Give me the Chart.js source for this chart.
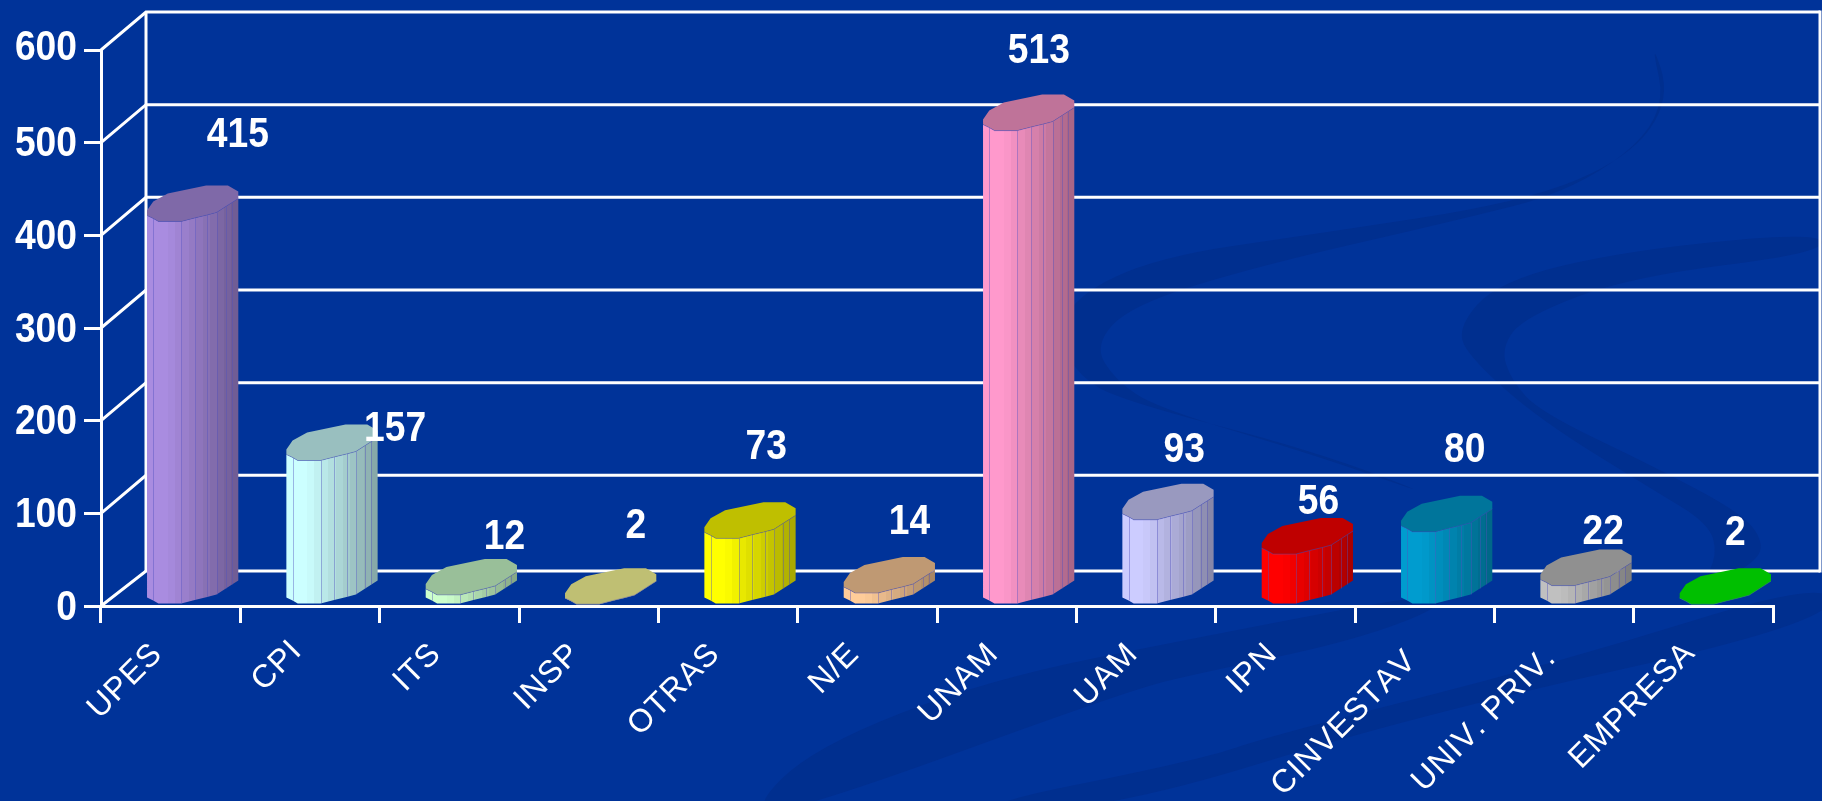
<!DOCTYPE html>
<html>
<head>
<meta charset="utf-8">
<style>
  html, body { margin: 0; padding: 0; background: #003399; overflow: hidden; }
  canvas { display: block; }
</style>
<script src="https://cdn.jsdelivr.net/npm/chart.js@4"></script>
</head>
<body>
<canvas id="grafico" width="1822" height="801"></canvas>
<script>
const categorias = ["UPES", "CPI", "ITS", "INSP", "OTRAS", "N/E", "UNAM", "UAM", "IPN", "CINVESTAV", "UNIV. PRIV.", "EMPRESA"];
const valores = [415, 157, 12, 2, 73, 14, 513, 93, 56, 80, 22, 2];
const colores = ["#a98ce0", "#ccffff", "#ccffcc", "#ffff99", "#ffff00", "#ffcc99", "#ff99cc", "#ccccff", "#ff0000", "#009ccf", "#c0c0c0", "#00ff00"];
const ticksY = [0, 100, 200, 300, 400, 500, 600];

// desplazamiento de cada etiqueta de valor respecto a la esquina superior derecha de su barra
const etiquetaDx = [0, 18, -12, -20, -29, -25, -35, -29, -34, -27, -28, -35];
const etiquetaDy = [-86, -31, -57, -78, -91, -71, -79, -69, -52, -81, -53, -71];
// bajada de las etiquetas inclinadas respecto a la linea comun
const categoriaDy = [0, -3, 0, 0, 0, 0, 0, 0, 0, 7, 4, -1];

const FONDO = "#003399";
const OSCURO = "#002f8f";
const BLANCO = "#ffffff";
const PARED_X = 45;
const PARED_Y = 38;
const FUENTE_NUM = "bold 42px 'Liberation Sans', Arial, sans-serif";
const FUENTE_CAT = "32px 'Liberation Sans', Arial, sans-serif";

// contorno de la cara superior, en pixeles para una barra de 88 x 36
const cadenaFrente = [[0, -6], [6, -3], [11, 0], [33, 0], [46, -3.5], [58, -6.5], [67, -9], [76, -15], [82, -19], [88, -23]];
const cadenaFondo = [[88, -30], [78, -36], [57, -36], [20, -28], [6, -20], [0, -11]];

// cintas decorativas del fondo de la plantilla
const cintas = [
  [[1650, 36], [1671, 99], [1629, 158], [1524, 202], [1315, 234], [1157, 257], [1073, 297], [1060, 340], [1079, 376], [1120, 400], [1315, 451], [1446, 501], [1315, 455], [1157, 408], [1115, 380], [1094, 345], [1131, 305], [1262, 265], [1450, 222], [1577, 190], [1668, 119]],
  [[1822, 232], [1629, 250], [1498, 281], [1456, 329], [1472, 360], [1540, 420], [1655, 491], [1708, 523], [1718, 554], [1700, 590], [1750, 566], [1765, 546], [1745, 515], [1655, 467], [1540, 412], [1511, 380], [1501, 348], [1524, 317], [1629, 277], [1822, 253]],
  [[1830, 578], [1557, 663], [1273, 735], [1200, 760], [950, 810], [1110, 810], [1416, 715], [1830, 623]],
  [[1446, 590], [1200, 637], [986, 680], [814, 747], [750, 810], [800, 810], [1130, 690], [1200, 673], [1344, 643], [1437, 610]]
];

function tono(hex, f) {
  const n = parseInt(hex.slice(1), 16);
  const r = Math.round(((n >> 16) & 255) * f);
  const g = Math.round(((n >> 8) & 255) * f);
  const b = Math.round((n & 255) * f);
  return "rgb(" + r + "," + g + "," + b + ")";
}

function trazarCinta(ctx, puntos) {
  const n = puntos.length;
  const medio = (a, b) => [(a[0] + b[0]) / 2, (a[1] + b[1]) / 2];
  const inicio = medio(puntos[n - 1], puntos[0]);
  ctx.beginPath();
  ctx.moveTo(inicio[0], inicio[1]);
  for (let i = 0; i < n; i++) {
    const m = medio(puntos[i], puntos[(i + 1) % n]);
    ctx.quadraticCurveTo(puntos[i][0], puntos[i][1], m[0], m[1]);
  }
  ctx.closePath();
  ctx.fill();
}

// la fuente original es mas angosta que Liberation Sans Bold
function textoAngosto(ctx, texto, x, y) {
  ctx.save();
  ctx.translate(x, y);
  ctx.scale(0.886, 1);
  ctx.fillText(texto, 0, 0);
  ctx.restore();
}

const fondoPlugin = {
  id: "fondo",
  beforeDraw(chart) {
    const ctx = chart.ctx;
    ctx.save();
    ctx.fillStyle = FONDO;
    ctx.fillRect(0, 0, chart.width, chart.height);
    ctx.fillStyle = OSCURO;
    cintas.forEach((c) => trazarCinta(ctx, c));
    ctx.restore();
  },
};

const paredPlugin = {
  id: "pared",
  beforeDatasetsDraw(chart) {
    const ctx = chart.ctx;
    const area = chart.chartArea;
    const y = chart.scales.y;
    const izq = area.left + PARED_X;
    const der = area.right + 47;
    ctx.save();
    ctx.strokeStyle = BLANCO;
    ctx.lineWidth = 3;
    ticksY.forEach((v) => {
      const py = y.getPixelForValue(v);
      const fondoY = py - (v === 0 ? 35 : PARED_Y);
      ctx.beginPath();
      ctx.moveTo(area.left, py);
      ctx.lineTo(izq, fondoY);
      ctx.lineTo(der, fondoY);
      ctx.stroke();
    });
    const arriba = y.getPixelForValue(600) - PARED_Y;
    const abajo = y.getPixelForValue(0) - 35;
    ctx.beginPath();
    ctx.moveTo(izq, abajo);
    ctx.lineTo(izq, arriba);
    ctx.moveTo(der, arriba - 1.5);
    ctx.lineTo(der, abajo + 1.5);
    ctx.stroke();
    ctx.restore();
  },
};

function dibujarCilindro(ctx, el, color) {
  const w = el.width;
  const izq = el.x - w / 2 + 22;
  const k = w / 88;
  const base = el.base - 1;
  const top = el.y;

  const frente = cadenaFrente.map((p) => [izq + p[0] * k, p[1]]);
  const fondo = cadenaFondo.map((p) => [izq + p[0] * k, p[1]]);

  // costado con bandas de color
  const grad = ctx.createLinearGradient(izq, 0, izq + w, 0);
  const bandas = 13;
  for (let i = 0; i < bandas; i++) {
    const t = i / (bandas - 1);
    const f = t < 0.2 ? 1 : 1 - (t - 0.2) * 0.42;
    const c = tono(color, f);
    grad.addColorStop(i / bandas, c);
    grad.addColorStop((i + 1) / bandas, c);
  }
  ctx.fillStyle = grad;
  ctx.beginPath();
  frente.forEach((p, i) => {
    if (i === 0) ctx.moveTo(p[0], top + p[1]);
    else ctx.lineTo(p[0], top + p[1]);
  });
  for (let i = frente.length - 1; i >= 0; i--) {
    ctx.lineTo(frente[i][0], base + frente[i][1]);
  }
  ctx.closePath();
  ctx.fill();

  // aristas verticales
  ctx.strokeStyle = "rgba(80,80,190,0.42)";
  ctx.lineWidth = 1;
  for (let i = 1; i < frente.length - 1; i++) {
    if (i === 2) continue;
    ctx.beginPath();
    ctx.moveTo(Math.round(frente[i][0]) + 0.5, top + frente[i][1]);
    ctx.lineTo(Math.round(frente[i][0]) + 0.5, base + frente[i][1]);
    ctx.stroke();
  }

  // cara superior
  ctx.fillStyle = tono(color, 0.75);
  ctx.beginPath();
  frente.concat(fondo).forEach((p, i) => {
    if (i === 0) ctx.moveTo(p[0], top + p[1]);
    else ctx.lineTo(p[0], top + p[1]);
  });
  ctx.closePath();
  ctx.fill();
  ctx.beginPath();
  frente.forEach((p, i) => {
    if (i === 0) ctx.moveTo(p[0], top + p[1]);
    else ctx.lineTo(p[0], top + p[1]);
  });
  ctx.stroke();
}

const cilindrosPlugin = {
  id: "cilindros",
  afterDatasetsDraw(chart) {
    const ctx = chart.ctx;
    const barras = chart.getDatasetMeta(0).data;
    ctx.save();
    barras.forEach((el, i) => dibujarCilindro(ctx, el, colores[i]));
    ctx.fillStyle = BLANCO;
    ctx.font = FUENTE_NUM;
    ctx.textAlign = "center";
    ctx.textBaseline = "middle";
    barras.forEach((el, i) => {
      const der = el.x + el.width / 2 + 21.5;
      textoAngosto(ctx, String(valores[i]), der + etiquetaDx[i], el.y + etiquetaDy[i]);
    });
    ctx.restore();
  },
};

const etiquetasPlugin = {
  id: "etiquetas",
  afterDraw(chart) {
    const ctx = chart.ctx;
    const x = chart.scales.x;
    const y = chart.scales.y;
    ctx.save();
    ctx.fillStyle = BLANCO;
    ctx.textBaseline = "middle";
    ctx.textAlign = "right";
    ctx.font = FUENTE_NUM;
    ticksY.forEach((v) => {
      textoAngosto(ctx, String(v), chart.chartArea.left - 24, y.getPixelForValue(v) + (v === 600 ? -2 : 2));
    });
    ctx.font = FUENTE_CAT;
    ctx.fontKerning = "none";
    ctx.letterSpacing = "1px";
    categorias.forEach((c, i) => {
      ctx.save();
      ctx.translate(x.getPixelForValue(i) - 13, y.bottom + 43 + categoriaDy[i]);
      ctx.rotate(-Math.PI / 4);
      ctx.fillText(c, 0, 0);
      ctx.restore();
    });
    ctx.restore();
  },
};

new Chart(document.getElementById("grafico"), {
  type: "bar",
  data: {
    labels: categorias,
    datasets: [
      {
        label: "Total",
        data: valores,
        backgroundColor: "rgba(0,0,0,0)",
        borderWidth: 0,
        barPercentage: 0.655,
        categoryPercentage: 1,
      },
    ],
  },
  plugins: [fondoPlugin, paredPlugin, cilindrosPlugin, etiquetasPlugin],
  options: {
    responsive: false,
    animation: false,
    devicePixelRatio: 1,
    layout: { padding: { top: 50, right: 49, bottom: 0, left: 0 } },
    plugins: {
      legend: { display: false },
      title: { display: false },
      tooltip: { enabled: false },
    },
    scales: {
      x: {
        afterFit(scale) {
          scale.height = 195;
        },
        border: { color: BLANCO, width: 3, z: 1 },
        grid: {
          drawOnChartArea: false,
          color: BLANCO,
          lineWidth: 3,
          tickLength: 17,
          tickColor: BLANCO,
          tickWidth: 3,
        },
        ticks: { display: false, autoSkip: false },
      },
      y: {
        min: 0,
        max: 600,
        afterFit(scale) {
          scale.width = 101;
        },
        afterBuildTicks(scale) {
          scale.ticks = ticksY.map((v) => ({ value: v }));
        },
        border: { color: BLANCO, width: 3 },
        grid: {
          drawOnChartArea: false,
          color: BLANCO,
          lineWidth: 3,
          tickLength: 17,
          tickColor: BLANCO,
          tickWidth: 3,
        },
        ticks: { display: false },
      },
    },
  },
});
</script>
</body>
</html>
